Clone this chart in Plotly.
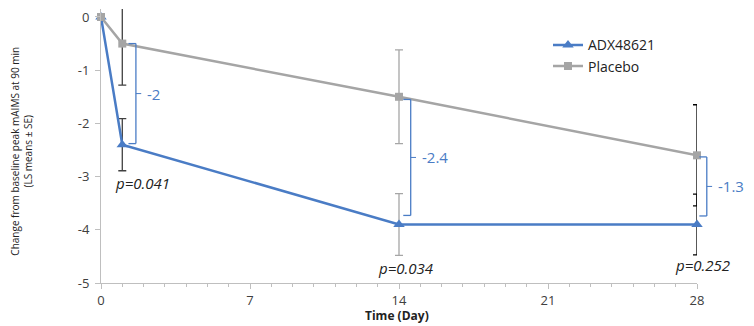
import plotly.graph_objects as go

# ---- data ----
days = [0, 1, 14, 28]
adx_mean = [0, -2.4, -3.9, -3.9]
adx_se = [0, 0.49, 0.58, 0.57]
placebo_mean = [0, -0.5, -1.5, -2.6]
placebo_se = [0, 0.78, 0.88, 0.95]
errbar_colors = [None, "#404040", "#A6A6A6", "#000000"]

diff_labels = ["-2", "-2.4", "-1.3"]
bracket_x = [1.64, 14.55, 28.46]
bracket_top = [-0.5, -1.55, -2.63]
bracket_bottom = [-2.38, -3.73, -3.74]

p_labels = ["p=0.041", "p=0.034", "p=0.252"]
p_x = [1.95, 14.35, 28.25]
p_y = [-3.12, -4.72, -4.66]

x_ticks = [0, 7, 14, 21, 28]
y_ticks = [0, -1, -2, -3, -4, -5]
y_ticktext = ["0", "-1", "-2", "-3", "-4", "-5"]

X_RANGE = [0, 28]
Y_RANGE = [-5, 0.15]

BLUE = "#4A7CC5"
GRAY = "#A5A5A5"
FONT = "Open Sans"


def xp(d):
    """day -> paper x (so marks beyond the axis end are not clipped)"""
    return (d - X_RANGE[0]) / (X_RANGE[1] - X_RANGE[0])


fig = go.Figure()

# error bars (coloured per time point)
for i in range(1, len(days)):
    for mean, se in ((placebo_mean, placebo_se), (adx_mean, adx_se)):
        fig.add_trace(go.Scatter(
            x=[days[i]], y=[mean[i]], mode="markers",
            marker=dict(size=1, opacity=0),
            error_y=dict(type="data", array=[se[i]], color=errbar_colors[i],
                         thickness=1.3, width=4),
            showlegend=False, hoverinfo="skip", cliponaxis=False))

fig.add_trace(go.Scatter(
    x=days, y=adx_mean, mode="lines+markers", name="ADX48621",
    line=dict(color=BLUE, width=2.5),
    marker=dict(symbol="triangle-up", size=10, color=BLUE),
    cliponaxis=False))
fig.add_trace(go.Scatter(
    x=days, y=placebo_mean, mode="lines+markers", name="Placebo",
    line=dict(color=GRAY, width=2.5),
    marker=dict(symbol="square", size=8, color=GRAY),
    cliponaxis=False))

# brackets
for bx, bt, bb, lab in zip(bracket_x, bracket_top, bracket_bottom, diff_labels):
    line = dict(color=BLUE, width=1.3)
    fig.add_shape(type="line", xref="paper", yref="y",
                  x0=xp(bx), x1=xp(bx), y0=bt, y1=bb, line=line)
    fig.add_shape(type="line", xref="paper", yref="y",
                  x0=xp(bx - 0.35), x1=xp(bx), y0=bt, y1=bt, line=line)
    fig.add_shape(type="line", xref="paper", yref="y",
                  x0=xp(bx - 0.35), x1=xp(bx), y0=bb, y1=bb, line=line)
    mid = (bt + bb) / 2
    fig.add_shape(type="line", xref="paper", yref="y",
                  x0=xp(bx), x1=xp(bx + 0.25), y0=mid, y1=mid,
                  line=dict(color=BLUE, width=1))
    fig.add_annotation(xref="paper", yref="y", x=xp(bx + 0.45), y=mid, text=lab,
                       showarrow=False, xanchor="left", yanchor="middle",
                       font=dict(family=FONT, size=15, color=BLUE))

for px, py, lab in zip(p_x, p_y, p_labels):
    fig.add_annotation(xref="paper", yref="y", x=xp(px), y=py,
                       text="<i>" + lab + "</i>", showarrow=False,
                       xanchor="center", yanchor="middle",
                       font=dict(family=FONT, size=15, color="#222222"))

# axis titles
fig.add_annotation(xref="paper", yref="paper", x=-0.133, y=0.482,
                   text="Change from baseline peak mAIMS at 90 min<br>(LS means ± SE)",
                   textangle=-90, showarrow=False, xanchor="center", yanchor="middle",
                   font=dict(family=FONT, size=10, color="#222222"))
fig.add_annotation(xref="paper", yref="paper", x=0.497, y=-0.117,
                   text="<b>Time (Day)</b>", showarrow=False,
                   xanchor="center", yanchor="middle",
                   font=dict(family=FONT, size=12, color="#222222"))

fig.update_layout(
    width=746, height=318,
    margin=dict(l=93, r=57, t=1, b=43),
    plot_bgcolor="white", paper_bgcolor="white",
    font=dict(family=FONT, size=13, color="#404040"),
    legend=dict(x=0.75, y=0.926, xanchor="left", yanchor="top",
                bgcolor="rgba(0,0,0,0)", font=dict(size=14, color="#222222"),
                itemwidth=30),
    showlegend=True,
)
fig.update_xaxes(range=X_RANGE, tickvals=x_ticks, showgrid=False, zeroline=False,
                 showline=True, linecolor="#BFBFBF", linewidth=1,
                 ticks="outside", ticklen=5, tickcolor="#BFBFBF",
                 ticklabeloverflow="allow",
                 minor=dict(dtick=1, ticks="outside", ticklen=3, tickcolor="#BFBFBF"),
                 tickfont=dict(size=13, color="#404040"))
fig.update_yaxes(range=Y_RANGE, tickvals=y_ticks, ticktext=y_ticktext,
                 showgrid=False, zeroline=False,
                 showline=True, linecolor="#BFBFBF", linewidth=1,
                 ticks="outside", ticklen=5, tickcolor="#BFBFBF",
                 ticklabelstandoff=3, ticklabeloverflow="allow",
                 tickfont=dict(size=13, color="#404040"))

fig.write_html("out.html")
